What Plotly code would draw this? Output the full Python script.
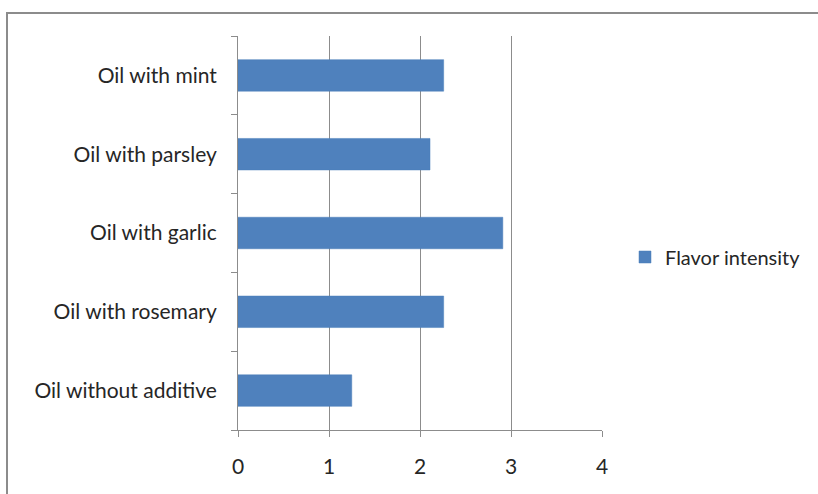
import plotly.graph_objects as go

categories = ["Oil without additive", "Oil with rosemary", "Oil with garlic", "Oil with parsley", "Oil with mint"]
values = [1.25, 2.26, 2.91, 2.11, 2.26]
series_name = "Flavor intensity"
x_ticks = [0, 1, 2, 3, 4]

W, H = 818, 494
L, R, T, B = 238, 602, 36, 430

fig = go.Figure()
fig.add_trace(go.Bar(
    y=categories, x=values, orientation="h", name=series_name,
    marker=dict(color="#4F81BD", line=dict(color="#4A7EBB", width=0.5)),
    width=0.4, showlegend=True,
))

def px(xp):
    return (xp - L) / (R - L)

def py(yp):
    return (B - yp) / (B - T)

fig.update_layout(
    width=W, height=H,
    margin=dict(l=L, r=W - R, t=T, b=H - B, pad=0, autoexpand=False),
    paper_bgcolor="white", plot_bgcolor="white",
    font=dict(family="Lato, Open Sans, sans-serif", size=21, color="#262626"),
    showlegend=True,
    legend=dict(x=px(625), y=py(257), xanchor="left", yanchor="middle",
                font=dict(size=20), bgcolor="rgba(0,0,0,0)"),
    xaxis=dict(range=[0, 4], tickvals=x_ticks, showgrid=True, gridcolor="#8c8c8c",
               gridwidth=1, zeroline=False, showline=True, linecolor="#8c8c8c",
               ticks="outside", ticklen=6, tickcolor="#8c8c8c",
               ticklabelstandoff=12, fixedrange=True),
    yaxis=dict(categoryorder="array", categoryarray=categories, showgrid=False,
               showline=True, linecolor="#8c8c8c", ticks="outside", ticklen=6,
               tickcolor="#8c8c8c", tickson="boundaries", ticklabelstandoff=16,
               zeroline=False, range=[-0.5, 4.5]),
    shapes=[dict(type="rect", xref="paper", yref="paper",
                 x0=px(7), x1=px(830), y0=py(505), y1=py(13),
                 line=dict(color="#8c8c8c", width=2), fillcolor="rgba(0,0,0,0)")],
)

fig.write_html("out.html")
